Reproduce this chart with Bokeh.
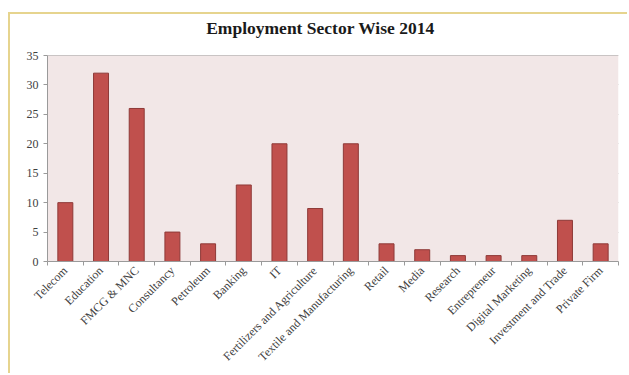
from bokeh.plotting import figure
from bokeh.models import FixedTicker, Range1d, Label
from bokeh.embed import file_html
from bokeh.resources import INLINE
import math

title_text = "Employment Sector Wise 2014"
categories = ["Telecom", "Education", "FMCG & MNC", "Consultancy", "Petroleum", "Banking", "IT",
              "Fertilizers and Agriculture", "Textile and Manufacturing", "Retail", "Media",
              "Research", "Entrepreneur", "Digital Marketing", "Investment and Trade", "Private Firm"]
values = [10, 32, 26, 5, 3, 13, 20, 9, 20, 3, 2, 1, 1, 1, 7, 3]
y_ticks = [0, 5, 10, 15, 20, 25, 30, 35]

n = len(categories)
centers = [i + 0.5 for i in range(n)]
y_max = y_ticks[-1]

# frame extends above the value area so the title can sit inside it
frame_h = 247          # px, frame height
area_h = 206           # px, height of the 0..35 value area
y_top = y_max * frame_h / area_h

p = figure(x_range=Range1d(0, n), y_range=Range1d(0, y_top), width=619, height=361,
           output_backend="svg", toolbar_location=None,
           min_border_left=37, min_border_right=11, min_border_top=0, min_border_bottom=114)
p.margin = (12, 0, 0, 8)
p.styles = {"border-top": "2px solid #E6D48E", "border-left": "2px solid #E6D48E"}

p.background_fill_color = "white"
p.border_fill_color = "white"
p.outline_line_color = None

p.quad(left=0, right=n, bottom=0, top=y_max, fill_color="#F2E7E7", line_color=None)

p.xgrid.grid_line_color = None
p.ygrid.grid_line_color = "#A0A0A0"
p.ygrid.grid_line_width = 1

p.vbar(x=centers, top=values, width=0.42, fill_color="#C0504D", line_color="#8E3A38", line_width=1)

p.add_layout(Label(text=title_text, x=273, y=234, x_units="screen", y_units="screen",
                   text_align="center", text_baseline="alphabetic",
                   text_font="Liberation Serif", text_font_size="17.5px",
                   text_font_style="bold", text_color="#1a1a1a"))

p.yaxis.ticker = FixedTicker(ticks=y_ticks)
p.yaxis.bounds = (0, y_max)
p.yaxis.minor_tick_line_color = None
p.yaxis.major_tick_out = 4
p.yaxis.major_tick_in = 0
p.yaxis.axis_line_color = "#9A9A9A"
p.yaxis.major_tick_line_color = "#9A9A9A"
p.yaxis.major_label_text_font = "Liberation Serif"
p.yaxis.major_label_text_font_size = "12px"
p.yaxis.major_label_text_color = "#404040"

p.xaxis.ticker = FixedTicker(ticks=centers, minor_ticks=list(range(n + 1)))
p.xaxis.major_label_overrides = {c: lab for c, lab in zip(centers, categories)}
p.xaxis.axis_line_color = "#9A9A9A"
p.xaxis.major_tick_line_color = None
p.xaxis.major_tick_out = 0
p.xaxis.major_tick_in = 0
p.xaxis.minor_tick_line_color = "#9A9A9A"
p.xaxis.minor_tick_out = 4
p.xaxis.minor_tick_in = 0
p.xaxis.major_label_orientation = math.pi / 4
p.xaxis.major_label_text_font = "Liberation Serif"
p.xaxis.major_label_text_font_size = "12px"
p.xaxis.major_label_text_color = "#404040"
p.xaxis.major_label_standoff = 3

open("out.html", "w").write(file_html(p, INLINE))
